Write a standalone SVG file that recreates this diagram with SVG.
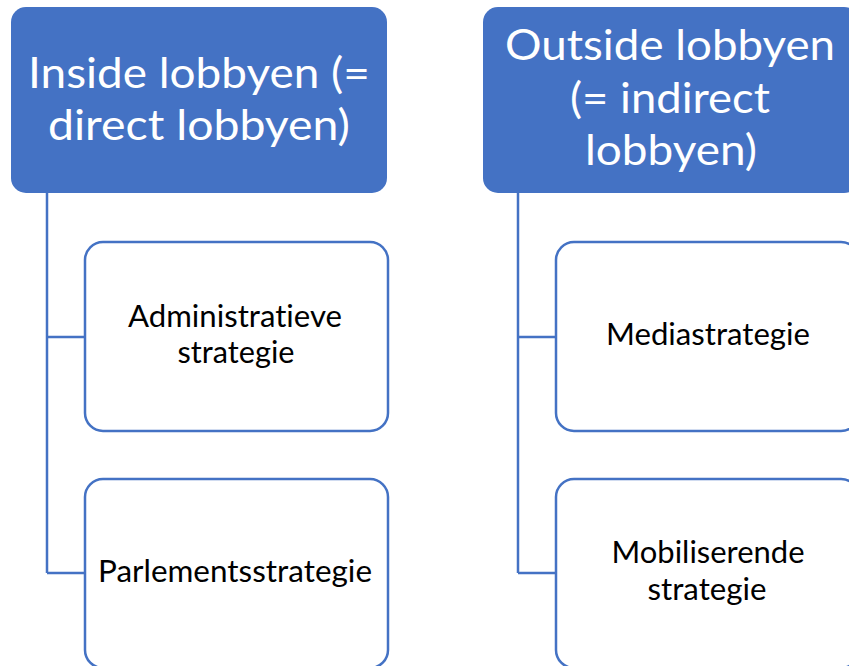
<svg xmlns="http://www.w3.org/2000/svg" width="849" height="666" viewBox="0 0 849 666">
<style>
.hdr{fill:#4472C4;}
.box{fill:#fff;stroke:#4472C4;stroke-width:2.5;}
.ht{font-family:Lato,"Open Sans",sans-serif;font-size:43px;fill:#fff;text-anchor:middle;font-variant-ligatures:none;}
.ct{font-family:Lato,"Open Sans",sans-serif;font-size:30px;fill:#000;text-anchor:middle;font-variant-ligatures:none;}
.con{fill:none;stroke:#4472C4;stroke-width:2.5;}
</style>
<rect width="849" height="666" fill="#fff"/>
<g id="connectors">
<path class="con" d="M47,193 V573 M47,337 H85 M47,573 H85"/>
<path class="con" d="M518,193 V573 M518,337 H556 M518,573 H556"/>
</g>
<g id="inside">
<rect class="hdr" x="11" y="7" width="376" height="186" rx="15"/>
<text class="ht" x="199" y="88" textLength="342" lengthAdjust="spacingAndGlyphs">Inside lobbyen (=</text>
<text class="ht" x="199" y="140" textLength="302" lengthAdjust="spacingAndGlyphs">direct lobbyen)</text>
</g>
<g id="outside">
<rect class="hdr" x="483" y="7" width="376" height="186" rx="15"/>
<text class="ht" x="670" y="60" textLength="330" lengthAdjust="spacingAndGlyphs">Outside lobbyen</text>
<text class="ht" x="670" y="113" textLength="200" lengthAdjust="spacingAndGlyphs">(= indirect</text>
<text class="ht" x="671" y="165" textLength="172" lengthAdjust="spacingAndGlyphs">lobbyen)</text>
</g>
<g id="admin">
<rect class="box" x="85" y="242" width="303" height="189" rx="18"/>
<text class="ct" x="235" y="327" textLength="214" lengthAdjust="spacingAndGlyphs">Administratieve</text>
<text class="ct" x="236" y="363" textLength="117" lengthAdjust="spacingAndGlyphs">strategie</text>
</g>
<g id="parlement">
<rect class="box" x="85" y="479" width="303" height="189" rx="18"/>
<text class="ct" x="235" y="582" textLength="274" lengthAdjust="spacingAndGlyphs">Parlementsstrategie</text>
</g>
<g id="media">
<rect class="box" x="556" y="242" width="303" height="189" rx="18"/>
<text class="ct" x="708" y="345" textLength="204" lengthAdjust="spacingAndGlyphs">Mediastrategie</text>
</g>
<g id="mobiliserend">
<rect class="box" x="556" y="479" width="303" height="189" rx="18"/>
<text class="ct" x="708" y="563" textLength="193" lengthAdjust="spacingAndGlyphs">Mobiliserende</text>
<text class="ct" x="707" y="600" textLength="119" lengthAdjust="spacingAndGlyphs">strategie</text>
</g>
</svg>
